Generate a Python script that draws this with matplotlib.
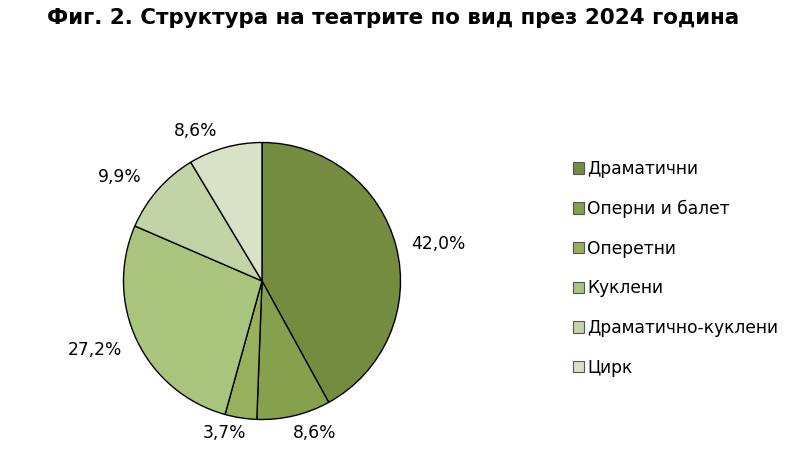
import numpy as np
import matplotlib.pyplot as plt

categories = ["Драматични", "Оперни и балет", "Оперетни", "Куклени",
              "Драматично-куклени", "Цирк"]
shares = [42.0, 8.6, 3.7, 27.2, 9.9, 8.6]
colors = ["#738c3f", "#87a04e", "#98b05b", "#a9c47c", "#c2d3a5", "#d8e2c6"]
# label placement around the pie: radius (pie units) and angle nudge (deg)
label_dist = [1.30, 1.16, 1.13, 1.305, 1.27, 1.185]
label_nudge = [-2.5, 5.9, -5.2, -3.1, 5.1, 8.4]

fig = plt.figure(figsize=(8.07, 4.58), dpi=100)
fig.text(0.4876, 0.96, "Фиг. 2. Структура на театрите по вид през 2024 година",
         ha="center", va="center", fontsize=15.4, fontweight="bold",
         family="DejaVu Sans")

W, H = 807, 458
cx, cy, r = 262, 281, 138.5
ax = fig.add_axes([(cx - r) / W, (H - cy - r) / H, 2 * r / W, 2 * r / H])
wedges, _ = ax.pie(shares, colors=colors, startangle=90, counterclock=False,
                   wedgeprops=dict(edgecolor="black", linewidth=1.0))
ax.set_xlim(-1, 1)
ax.set_ylim(-1, 1)
ax.set_aspect("equal")

for w, v, d, nd in zip(wedges, shares, label_dist, label_nudge):
    th = np.deg2rad((w.theta1 + w.theta2) / 2 + nd)
    ax.text(d * np.cos(th), d * np.sin(th), f"{v:.1f}%".replace(".", ","),
            ha="center", va="center", fontsize=12.3, clip_on=False)

leg = fig.legend(wedges, categories, loc="upper left",
                 bbox_to_anchor=(561 / W, 1 - 148 / H), frameon=False,
                 fontsize=12.3, handlelength=0.65, handleheight=0.65,
                 handletextpad=0.2, labelspacing=1.27, borderpad=0.2)
for h in leg.legend_handles:
    h.set_edgecolor("#555555")
    h.set_linewidth(0.8)

fig.savefig("out.png", dpi=100)
